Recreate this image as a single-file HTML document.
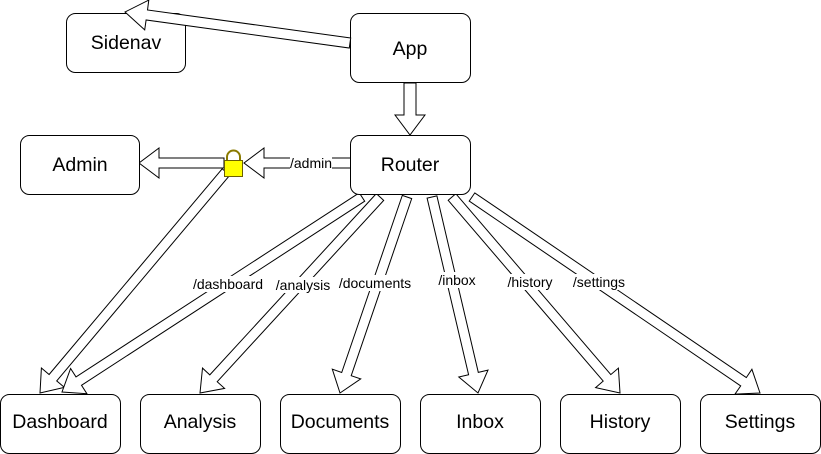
<!DOCTYPE html>
<html><head><meta charset="utf-8"><style>
html,body{margin:0;padding:0;background:#fff;}
svg{display:block;font-family:"Liberation Sans",sans-serif;}
</style></head><body>
<svg id="s" width="821" height="454" viewBox="0 0 821 454" xmlns="http://www.w3.org/2000/svg">
<g id="arrows" fill="#fff" stroke="#000" stroke-width="1"></g>
<g fill="#fff" stroke="#000" stroke-width="1">
<rect x="66.5" y="13.5" width="119" height="59" rx="9"/>
<rect x="350.5" y="13.5" width="120" height="69" rx="9"/>
<rect x="20.5" y="135.5" width="119" height="59" rx="9"/>
<rect x="350.5" y="135.5" width="120" height="59" rx="9"/>
<rect x="0.5" y="394.5" width="120" height="59" rx="9"/>
<rect x="140.5" y="394.5" width="120" height="59" rx="9"/>
<rect x="280.5" y="394.5" width="120" height="59" rx="9"/>
<rect x="420.5" y="394.5" width="120" height="59" rx="9"/>
<rect x="560.5" y="394.5" width="120" height="59" rx="9"/>
<rect x="700.5" y="394.5" width="120" height="59" rx="9"/>
</g>
<g id="top" fill="#fff" stroke="#000" stroke-width="1"></g>
<g font-size="19.5" text-anchor="middle" fill="#000">
<text x="126" y="49">Sidenav</text>
<text x="410" y="55">App</text>
<text x="80" y="171">Admin</text>
<text x="410" y="171">Router</text>
<text x="60" y="428">Dashboard</text>
<text x="200" y="428">Analysis</text>
<text x="340" y="428">Documents</text>
<text x="480" y="428">Inbox</text>
<text x="620" y="428">History</text>
<text x="760" y="428">Settings</text>
</g>
<g font-size="14" text-anchor="middle" fill="#000" id="labels"></g>
<g>
<path d="M227 161 v-4 a6.5 6.5 0 0 1 13 0 v4" fill="none" stroke="#8a7a00" stroke-width="2"/>
<rect x="224.5" y="160.5" width="18" height="16" fill="#ffff00" stroke="#6b6000"/>
</g>
</svg>
<script>
function arr(g,x1,y1,x2,y2,w,hw,hl){w=w||10;hw=hw||30;hl=hl||20;
var dx=x2-x1,dy=y2-y1,L=Math.hypot(dx,dy),ux=dx/L,uy=dy/L,px=-uy,py=ux;
var bx=x2-ux*hl,by=y2-uy*hl;
var P=[[x1+px*w/2,y1+py*w/2],[bx+px*w/2,by+py*w/2],[bx+px*hw/2,by+py*hw/2],[x2,y2],[bx-px*hw/2,by-py*hw/2],[bx-px*w/2,by-py*w/2],[x1-px*w/2,y1-py*w/2]];
var p=document.createElementNS('http://www.w3.org/2000/svg','polygon');
p.setAttribute('points',P.map(function(a){return a[0].toFixed(1)+','+a[1].toFixed(1)}).join(' '));
g.appendChild(p);}
var g=document.getElementById('arrows'),tp=document.getElementById('top');
arr(tp,350,43,125,12,10,30,22);
arr(g,410,83,410,135,12,30,20);
arr(g,356,163,244,163,10,30,20);
arr(g,224,163,139,163,10,30,20);
arr(g,226,172,40,393);
arr(g,362,197,62,392);
arr(g,380,197,200,393);
arr(g,407,197,340,393);
arr(g,432,197,478,393);
arr(g,452,197,620,393);
arr(g,472,197,760,393);
var lb=document.getElementById('labels');
[['/admin',311,168],['/dashboard',228,289],['/analysis',303,290],['/documents',375,288],['/inbox',457,285],['/history',530,287],['/settings',599,287]].forEach(function(a){
var t=document.createElementNS('http://www.w3.org/2000/svg','text');t.setAttribute('x',a[1]);t.setAttribute('y',a[2]);t.textContent=a[0];lb.appendChild(t);
var b=t.getBBox();var r=document.createElementNS('http://www.w3.org/2000/svg','rect');
r.setAttribute('x',b.x);r.setAttribute('y',b.y);r.setAttribute('width',b.width);r.setAttribute('height',b.height);r.setAttribute('fill','#fff');lb.insertBefore(r,t);});
</script>
</body></html>
